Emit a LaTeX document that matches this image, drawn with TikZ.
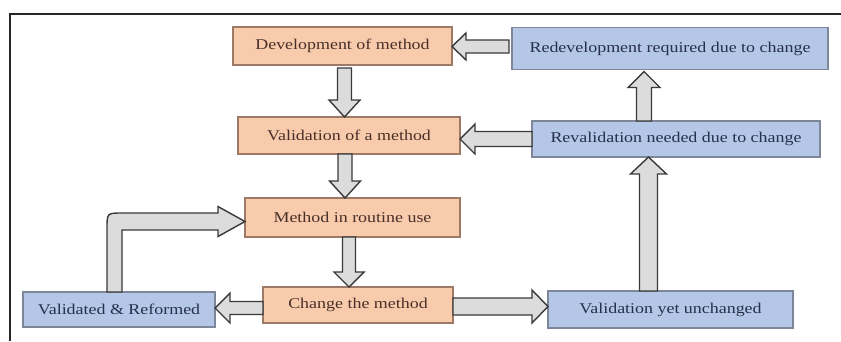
\documentclass[tikz,border=0pt]{standalone}
\usepackage{fontspec}
\setmainfont[FakeStretch=1.2]{Liberation Serif}
\usetikzlibrary{calc}
\definecolor{orfill}{HTML}{F8CBAD}
\definecolor{ordraw}{HTML}{9C7A66}
\definecolor{ortext}{HTML}{4A3028}
\definecolor{blfill}{HTML}{B4C7E7}
\definecolor{bldraw}{HTML}{7D8799}
\definecolor{bltext}{HTML}{26304A}
\definecolor{arfill}{HTML}{DCDCDC}
\definecolor{ardraw}{HTML}{3A3A3A}
\tikzset{
  box/.style={rectangle, inner sep=0pt, outer sep=0pt, line width=1.2bp,
    font=\fontsize{15}{18}\selectfont},
  obox/.style={box, fill=orfill, draw=ordraw, text=ortext},
  bbox/.style={box, fill=blfill, draw=bldraw, text=bltext},
  barrowstyle/.style={fill=arfill, draw=ardraw, line width=1.4bp, line join=miter},
  frameline/.style={line width=2.5bp, draw=black!85}
}
% #1 shaft half width, #2 head half width, #3 head length, #4 tail, #5 tip
\newcommand\blockarrow[5]{%
  \coordinate (hb) at ($(#5)!#3bp!(#4)$);
  \draw[barrowstyle] ($(#4)!#1bp!90:(#5)$) -- ($(hb)!#1bp!-90:(#4)$)
    -- ($(hb)!#2bp!-90:(#4)$) -- (#5) -- ($(hb)!#2bp!90:(#4)$)
    -- ($(hb)!#1bp!90:(#4)$) -- ($(#4)!#1bp!-90:(#5)$) -- cycle;}
\begin{document}
\begin{tikzpicture}[x=1bp,y=-1bp]
\useasboundingbox[fill=white] (0,0) rectangle (841,341);
\draw[frameline] (10,341) -- (10,14) -- (841,14);

\node[obox, minimum width=219bp, minimum height=38bp] (dev) at (342.5,46) {Development of method};
\node[bbox, minimum width=316bp, minimum height=42bp] (redev) at (670,48.5) {Redevelopment required due to change};
\node[obox, minimum width=222bp, minimum height=37bp] (val) at (349,135.5) {Validation of a method};
\node[bbox, minimum width=288bp, minimum height=36bp] (reval) at (676,139) {Revalidation needed due to change};
\node[obox, minimum width=215bp, minimum height=39bp] (routine) at (352.5,217.5) {Method in routine use};
\node[obox, minimum width=190bp, minimum height=36bp] (change) at (358,305) {Change the method};
\node[bbox, minimum width=192bp, minimum height=35bp] (vr) at (119,309.5) {Validated \& Reformed};
\node[bbox, minimum width=245bp, minimum height=37bp] (vyu) at (670.5,309.5) {Validation yet unchanged};

% vertical arrows down the middle
\coordinate (t1) at ($(dev.south)+(2,3)$);
\coordinate (h1) at (t1 |- val.north);
\blockarrow{7}{15.5}{17}{t1}{h1}
\coordinate (t2) at ($(val.south)+(-4,0)$);
\coordinate (h2) at (t2 |- routine.north);
\blockarrow{7}{15.5}{17}{t2}{h2}
\coordinate (t3) at ($(routine.south)+(-3.5,0)$);
\coordinate (h3) at (t3 |- change.north);
\blockarrow{6.5}{15}{15}{t3}{h3}

% horizontal arrows from "Change the method"
\coordinate (t4) at ($(change.west)+(0,3)$);
\coordinate (h4) at (t4 -| vr.east);
\blockarrow{6.5}{15}{15}{t4}{h4}
\coordinate (t5) at ($(change.east)+(0,1.5)$);
\coordinate (h5) at (t5 -| vyu.west);
\blockarrow{8.5}{16.5}{16}{t5}{h5}

% right column upward arrows
\coordinate (t6) at ($(vyu.north)+(-22,0)$);
\coordinate (h6) at (t6 |- reval.south);
\blockarrow{9}{18}{17}{t6}{h6}
\coordinate (t7) at ($(reval.north)+(-32,0)$);
\coordinate (h7) at ($(t7 |- redev.south)+(0,2)$);
\blockarrow{7.5}{16}{16}{t7}{h7}

% leftward arrows into the orange column
\coordinate (t8) at (reval.west);
\coordinate (h8) at (t8 -| val.east);
\blockarrow{7.5}{15}{15}{t8}{h8}
\coordinate (t9) at ($(redev.west)+(-3,-2)$);
\coordinate (h9) at (t9 -| dev.east);
\blockarrow{6.5}{13.5}{14}{t9}{h9}

% bent arrow from "Validated & Reformed" to "Method in routine use"
\coordinate (bt) at ($(vr.north)+(-4.5,0)$);
\coordinate (btip) at ($(routine.west)+(0,4)$);
\coordinate (bc) at (bt |- btip);
\coordinate (bhb) at ($(btip)+(-27,0)$);
\draw[barrowstyle]
  ($(bt)+(-7.5,0)$) -- ($(bc)+(-7.5,7)$)
  .. controls ($(bc)+(-7.5,-8.5)$) .. ($(bc)+(8,-8.5)$)
  -- ($(bhb)+(0,-8.5)$) -- ($(bhb)+(0,-15)$) -- (btip)
  -- ($(bhb)+(0,15)$) -- ($(bhb)+(0,8.5)$)
  -- ($(bc)+(7.5,8.5)$) -- ($(bt)+(7.5,0)$) -- cycle;
\end{tikzpicture}
\end{document}
